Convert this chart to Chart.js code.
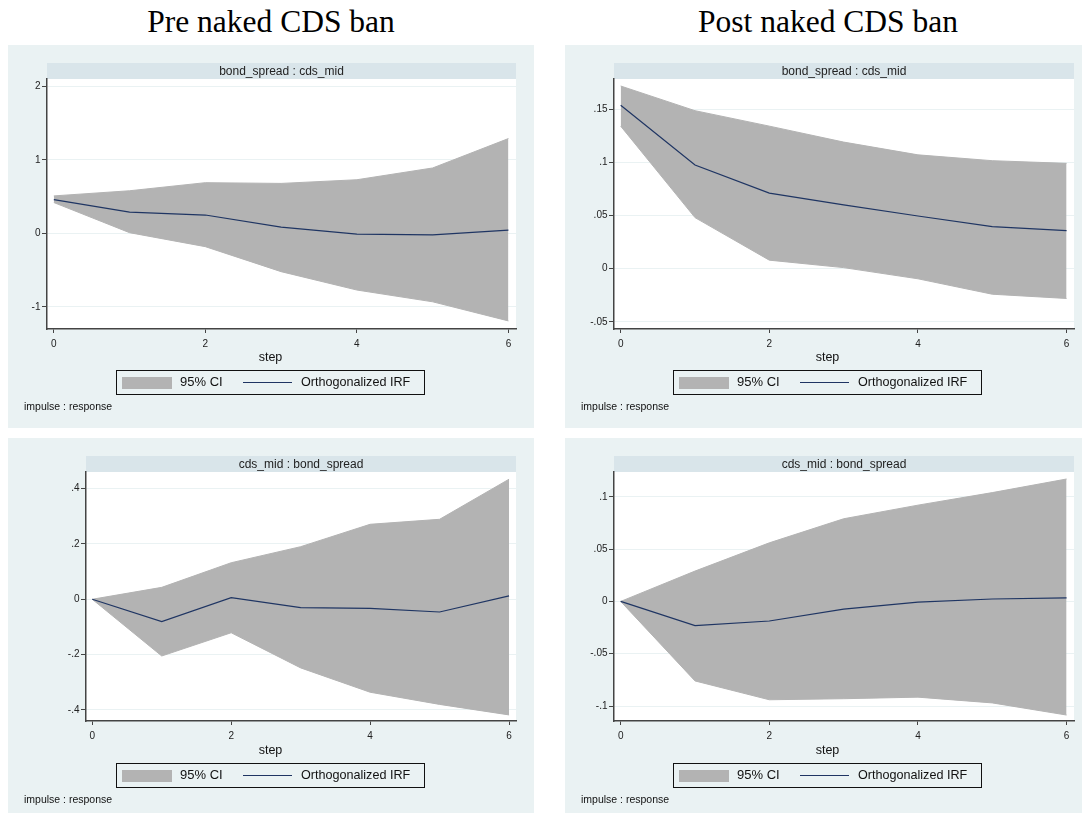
<!DOCTYPE html>
<html>
<head>
<meta charset="utf-8">
<script src="https://cdn.jsdelivr.net/npm/chart.js@4.4.1/dist/chart.umd.min.js"></script>
<style>
  html, body { margin:0; padding:0; background:#fff; }
  body { width:1082px; height:814px; position:relative; overflow:hidden; font-family:"Liberation Sans", Arial, sans-serif; }
  .title { position:absolute; top:6px; font-family:"Liberation Serif","Times New Roman",serif; font-size:31.5px; line-height:1; color:#000; white-space:nowrap; transform:translateX(-50%); }
  .panel { position:absolute; }
  .panel canvas { position:absolute; left:0; top:0; }
  .legend { position:absolute; left:108px; top:325px; width:309px; height:25px; box-sizing:border-box; border:1px solid #111; }
  .legend .sw { position:absolute; left:5px; top:5.5px; width:50px; height:12px; background:#b3b3b3; }
  .legend .ln { position:absolute; left:126px; top:11px; width:49px; height:0; border-top:1.2px solid #1f3563; }
  .legend .t1 { position:absolute; left:63px; top:3px; font-size:13px; line-height:16px; color:#111; }
  .legend .t2 { position:absolute; left:184px; top:3px; font-size:12.6px; line-height:16px; color:#111; }
  .note { position:absolute; left:16px; font-size:10.5px; line-height:12px; color:#111; }
</style>
</head>
<body>
<div class="title" style="left:271px;">Pre naked CDS ban</div>
<div class="title" style="left:828px;">Post naked CDS ban</div>
<div id="root"></div>
<script>
// ---------- data ----------
const steps = [0, 1, 2, 3, 4, 5, 6];
const xTickVals = [0, 2, 4, 6];
const xTickLabels = ['0', '2', '4', '6'];
const legendCI = '95% CI';
const legendIRF = 'Orthogonalized IRF';
const xTitle = 'step';
const noteText = 'impulse : response';

// Pre ban: bond_spread : cds_mid
const preBondCdsIrf = [0.46, 0.29, 0.25, 0.085, -0.01, -0.02, 0.045];
const preBondCdsHi  = [0.51, 0.58, 0.69, 0.68, 0.73, 0.89, 1.29];
const preBondCdsLo  = [0.42, 0.01, -0.18, -0.52, -0.77, -0.93, -1.19];
const preBondCdsYTicks = [-1, 0, 1, 2];
const preBondCdsYLabels = ['-1', '0', '1', '2'];

// Post ban: bond_spread : cds_mid
const postBondCdsIrf = [0.1536, 0.0975, 0.071, 0.060, 0.0495, 0.0395, 0.0357];
const postBondCdsHi  = [0.1717, 0.1485, 0.134, 0.119, 0.107, 0.1015, 0.099];
const postBondCdsLo  = [0.134, 0.048, 0.008, 0.001, -0.0095, -0.024, -0.028];
const postBondCdsYTicks = [-0.05, 0, 0.05, 0.1, 0.15];
const postBondCdsYLabels = ['-.05', '0', '.05', '.1', '.15'];

// Pre ban: cds_mid : bond_spread
const preCdsBondIrf = [0, -0.081, 0.006, -0.03, -0.033, -0.046, 0.012];
const preCdsBondHi  = [0, 0.043, 0.132, 0.19, 0.271, 0.289, 0.434];
const preCdsBondLo  = [0, -0.205, -0.121, -0.248, -0.336, -0.38, -0.418];
const preCdsBondYTicks = [-0.4, -0.2, 0, 0.2, 0.4];
const preCdsBondYLabels = ['-.4', '-.2', '0', '.2', '.4'];

// Post ban: cds_mid : bond_spread
const postCdsBondIrf = [0, -0.0232, -0.0187, -0.0073, -0.0006, 0.0023, 0.0033];
const postCdsBondHi  = [0, 0.029, 0.056, 0.079, 0.092, 0.104, 0.117];
const postCdsBondLo  = [0, -0.076, -0.094, -0.093, -0.0915, -0.097, -0.1086];
const postCdsBondYTicks = [-0.1, -0.05, 0, 0.05, 0.1];
const postCdsBondYLabels = ['-.1', '-.05', '0', '.05', '.1'];

// ---------- styling ----------
const panelBg = '#eaf2f3';
const stripBg = '#d9e5ea';
const ciColor = '#b3b3b3';
const irfColor = '#1f3563';
const axisColor = '#444';
const gridColor = '#eaf2f3';
const sans = '"Liberation Sans", Arial, sans-serif';

const panels = [
  { left: 8,   top: 45,  w: 526, h: 383, areaLeft: 39, padRight: 18, padTop: 34, xh: 99,
    yMin: -1.30, yMax: 2.10, sub: 'bond_spread : cds_mid',
    irf: preBondCdsIrf, hi: preBondCdsHi, lo: preBondCdsLo, yt: preBondCdsYTicks, yl: preBondCdsYLabels },
  { left: 565, top: 45,  w: 526, h: 383, areaLeft: 49, padRight: 17, padTop: 34, xh: 99,
    yMin: -0.0567, yMax: 0.1783, sub: 'bond_spread : cds_mid',
    irf: postBondCdsIrf, hi: postBondCdsHi, lo: postBondCdsLo, yt: postBondCdsYTicks, yl: postBondCdsYLabels },
  { left: 8,   top: 438, w: 526, h: 375, areaLeft: 78, padRight: 18, padTop: 34, xh: 92,
    yMin: -0.440, yMax: 0.460, sub: 'cds_mid : bond_spread',
    irf: preCdsBondIrf, hi: preCdsBondHi, lo: preCdsBondLo, yt: preCdsBondYTicks, yl: preCdsBondYLabels },
  { left: 565, top: 438, w: 526, h: 375, areaLeft: 49, padRight: 17, padTop: 34, xh: 92,
    yMin: -0.1143, yMax: 0.1237, sub: 'cds_mid : bond_spread',
    irf: postCdsBondIrf, hi: postCdsBondHi, lo: postCdsBondLo, yt: postCdsBondYTicks, yl: postCdsBondYLabels }
];

const bgPlugin = {
  id: 'stataBg',
  beforeDraw(chart, args, opts) {
    const { ctx, chartArea: a, width, height } = chart;
    ctx.save();
    ctx.fillStyle = panelBg;
    ctx.fillRect(0, 0, width, height);
    ctx.fillStyle = '#ffffff';
    ctx.fillRect(a.left, a.top, a.right - a.left, a.bottom - a.top);
    ctx.fillStyle = stripBg;
    ctx.fillRect(a.left, a.top - 16, a.right - a.left, 16);
    ctx.fillStyle = '#222';
    ctx.font = '12px ' + sans;
    ctx.textAlign = 'center';
    ctx.textBaseline = 'middle';
    ctx.fillText(opts.subtitle || '', (a.left + a.right) / 2, a.top - 7.5);
    ctx.restore();
  },
  afterDraw(chart, args, opts) {
    const { ctx, width } = chart;
    ctx.save();
    ctx.fillStyle = '#111';
    ctx.font = '12.5px ' + sans;
    ctx.textAlign = 'center';
    ctx.textBaseline = 'middle';
    ctx.fillText(opts.xTitle || '', width / 2 - 0.5, 313);
    ctx.restore();
  }
};

const root = document.getElementById('root');
const toPts = arr => steps.map((s, i) => ({ x: s, y: arr[i] }));

panels.forEach((p, idx) => {
  const div = document.createElement('div');
  div.className = 'panel';
  div.style.left = p.left + 'px';
  div.style.top = p.top + 'px';
  div.style.width = p.w + 'px';
  div.style.height = p.h + 'px';
  const cv = document.createElement('canvas');
  cv.width = p.w; cv.height = p.h;
  cv.style.width = p.w + 'px'; cv.style.height = p.h + 'px';
  div.appendChild(cv);

  const leg = document.createElement('div');
  leg.className = 'legend';
  leg.innerHTML = '<div class="sw"></div><div class="t1"></div><div class="ln"></div><div class="t2"></div>';
  leg.querySelector('.t1').textContent = legendCI;
  leg.querySelector('.t2').textContent = legendIRF;
  div.appendChild(leg);

  const note = document.createElement('div');
  note.className = 'note';
  note.style.top = '355px';
  note.textContent = noteText;
  div.appendChild(note);
  root.appendChild(div);

  new Chart(cv.getContext('2d'), {
    type: 'line',
    data: {
      datasets: [
        { label: legendCI, data: toPts(p.hi), borderColor: ciColor, backgroundColor: ciColor,
          borderWidth: 1, pointRadius: 0, fill: '+1', tension: 0, order: 2 },
        { label: 'lower', data: toPts(p.lo), borderColor: ciColor, backgroundColor: ciColor,
          borderWidth: 1, pointRadius: 0, fill: false, tension: 0, order: 3 },
        { label: legendIRF, data: toPts(p.irf), borderColor: irfColor, backgroundColor: irfColor,
          borderWidth: 1.2, pointRadius: 0, fill: false, tension: 0, order: 1 }
      ]
    },
    options: {
      responsive: false,
      animation: false,
      devicePixelRatio: 1,
      layout: { padding: { left: 0, right: p.padRight, top: p.padTop, bottom: 0 } },
      plugins: {
        legend: { display: false },
        tooltip: { enabled: false },
        stataBg: { subtitle: p.sub, xTitle: xTitle }
      },
      scales: {
        x: {
          type: 'linear', min: -0.09, max: 6.1,
          afterBuildTicks: s => { s.ticks = xTickVals.map(v => ({ value: v })); },
          afterFit: s => { s.height = p.xh; },
          ticks: {
            callback: v => xTickLabels[xTickVals.indexOf(v)],
            font: { family: sans, size: 10 }, color: '#222', padding: 5.5, maxRotation: 0, autoSkip: false
          },
          grid: { drawOnChartArea: false, drawTicks: true, tickLength: 4, tickColor: axisColor, tickWidth: 1 },
          border: { display: true, color: axisColor, width: 1.5 },
          title: { display: false }
        },
        y: {
          type: 'linear', min: p.yMin, max: p.yMax,
          afterBuildTicks: s => { s.ticks = p.yt.map(v => ({ value: v })); },
          afterFit: s => { s.width = p.areaLeft; },
          ticks: {
            callback: v => { const i = p.yt.findIndex(t => Math.abs(t - v) < 1e-9); return i >= 0 ? p.yl[i] : ''; },
            font: { family: sans, size: 10 }, color: '#222', padding: 1.5, autoSkip: false
          },
          grid: { color: gridColor, lineWidth: 1, drawTicks: true, tickLength: 5, tickColor: axisColor, tickWidth: 1 },
          border: { display: true, color: axisColor, width: 1.5 }
        }
      }
    },
    plugins: [bgPlugin]
  });
});
</script>
</body>
</html>
